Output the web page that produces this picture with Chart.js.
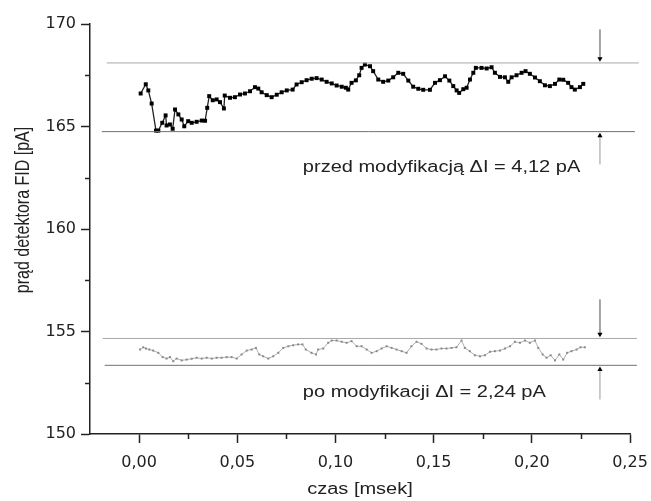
<!DOCTYPE html>
<html>
<head>
<meta charset="utf-8">
<script src="https://cdn.jsdelivr.net/npm/chart.js@4"></script>
<style>
html, body { margin: 0; padding: 0; background: #fff; }
</style>
</head>
<body>
<canvas id="chart" width="651" height="501"></canvas>
<script>
// signal before modification (black)
var upperX = [0.0008,0.0034,0.0047,0.0064,0.0086,0.0098,0.0118,0.0135,0.0140,0.0157,0.0171,0.0183,0.0200,0.0217,0.0230,0.0250,0.0268,0.0293,0.0319,0.0336,
  0.0347,0.0357,0.0375,0.0395,0.0412,0.0432,0.0436,0.0463,0.0488,0.0514,0.0539,0.0565,0.0590,0.0607,0.0624,0.0650,0.0675,0.0701,0.0726,0.0752,
  0.0782,0.0802,0.0828,0.0853,0.0879,0.0904,0.0930,0.0955,0.0981,0.1006,0.1032,0.1053,0.1065,0.1082,0.1104,0.1121,0.1133,0.1150,0.1176,0.1192,
  0.1218,0.1243,0.1269,0.1294,0.1320,0.1345,0.1371,0.1396,0.1422,0.1447,0.1481,0.1507,0.1532,0.1558,0.1580,0.1600,0.1617,0.1630,0.1651,0.1668,
  0.1685,0.1702,0.1715,0.1744,0.1770,0.1795,0.1812,0.1838,0.1863,0.1880,0.1897,0.1922,0.1948,0.1968,0.1990,0.2016,0.2041,0.2067,0.2092,0.2118,
  0.2140,0.2160,0.2185,0.2202,0.2219,0.2245,0.2262];
var upperY = [166.61,167.06,166.76,166.12,164.80,164.80,165.18,165.54,165.05,165.10,164.89,165.83,165.59,165.34,165.01,165.26,165.18,165.23,165.29,165.28,
  165.91,166.48,166.28,166.32,166.19,165.88,166.51,166.40,166.43,166.56,166.61,166.72,166.92,166.85,166.67,166.53,166.43,166.55,166.67,166.76,
  166.80,167.05,167.16,167.26,167.33,167.36,167.29,167.18,167.10,167.00,166.94,166.89,166.80,167.13,167.25,167.50,167.86,168.02,167.94,167.70,
  167.29,167.18,167.24,167.40,167.62,167.57,167.24,166.94,166.84,166.79,166.79,167.13,167.26,167.45,167.24,166.97,166.76,166.64,166.82,166.89,
  167.29,167.62,167.86,167.86,167.83,167.89,167.62,167.42,167.40,167.18,167.40,167.50,167.62,167.70,167.57,167.39,167.21,167.01,166.97,167.08,
  167.29,167.28,167.13,166.92,166.80,166.92,167.08];

// signal after modification (grey)
var lowerX = [0.0005,0.0021,0.0035,0.0052,0.0072,0.0098,0.0120,0.0140,0.0157,0.0174,0.0191,0.0217,0.0242,0.0268,0.0293,0.0319,0.0344,0.0370,0.0395,0.0420,
  0.0446,0.0471,0.0497,0.0522,0.0548,0.0573,0.0595,0.0612,0.0632,0.0658,0.0683,0.0709,0.0734,0.0760,0.0785,0.0810,0.0832,0.0849,0.0878,0.0901,
  0.0912,0.0938,0.0963,0.0981,0.1006,0.1032,0.1057,0.1082,0.1108,0.1133,0.1159,0.1184,0.1210,0.1235,0.1261,0.1286,0.1311,0.1337,0.1362,0.1387,
  0.1413,0.1438,0.1464,0.1489,0.1514,0.1540,0.1565,0.1591,0.1616,0.1642,0.1659,0.1684,0.1710,0.1736,0.1761,0.1787,0.1812,0.1838,0.1863,0.1889,
  0.1914,0.1940,0.1965,0.1990,0.2016,0.2033,0.2055,0.2075,0.2096,0.2118,0.2140,0.2160,0.2180,0.2202,0.2228,0.2248,0.2270];
var lowerY = [154.12,154.23,154.17,154.12,154.07,153.96,153.75,153.68,153.75,153.55,153.68,153.59,153.63,153.67,153.72,153.68,153.72,153.68,153.72,153.72,
  153.75,153.75,153.68,153.88,154.07,154.12,154.20,153.88,153.79,153.68,153.79,153.96,154.20,154.28,154.33,154.37,154.37,154.12,153.96,153.88,
  154.12,154.17,154.45,154.56,154.56,154.50,154.45,154.53,154.28,154.28,154.12,153.96,154.04,154.17,154.28,154.20,154.12,154.04,153.96,154.28,
  154.50,154.40,154.17,154.12,154.12,154.17,154.17,154.20,154.23,154.56,154.20,154.04,153.84,153.79,153.84,154.01,154.04,154.07,154.17,154.28,
  154.50,154.45,154.56,154.45,154.56,154.20,153.88,153.72,153.84,153.59,153.88,153.63,153.96,154.04,154.12,154.23,154.23];

// noise band limits [level, xStart, xEnd]
var bandLines = [[168.10, -0.0165, 0.2545], [164.75, -0.0190, 0.2525], [154.66, -0.0185, 0.2535], [153.35, -0.0175, 0.2535]];
// arrows [x, from, head]
var arrows = [[0.2347, 169.73, 168.30], [0.2347, 163.15, 164.55], [0.2347, 156.56, 154.86], [0.2347, 151.68, 153.15]];

var xTicks = [0, 0.05, 0.10, 0.15, 0.20, 0.25];
var xMinor = [0.025, 0.075, 0.125, 0.175, 0.225];
var yMinor = [152.5, 157.5, 162.5, 167.5];

var labelBefore = 'przed modyfikacją \u0394I = 4,12 pA';
var labelAfter = 'po modyfikacji \u0394I = 2,24 pA';

function pts(xs, ys) {
  return xs.map(function (x, i) { return { x: x, y: ys[i] }; });
}

var datasets = [];
bandLines.forEach(function (b, i) {
  datasets.push({
    data: [{ x: b[1], y: b[0] }, { x: b[2], y: b[0] }],
    borderColor: i % 2 == 0 ? '#a8a8a8' : '#707070',
    borderWidth: 1, pointRadius: 0, showLine: true, clip: false
  });
});
arrows.forEach(function (a) {
  datasets.push({
    data: [{ x: a[0], y: a[1] }, { x: a[0], y: a[2] }],
    borderColor: '#999', borderWidth: 1, showLine: true, clip: false,
    pointRadius: [0, 3], pointStyle: 'triangle', rotation: a[2] < a[1] ? 180 : 0,
    pointBackgroundColor: '#000', pointBorderColor: '#000', pointBorderWidth: 0
  });
});
datasets.push({
  data: pts(lowerX, lowerY),
  borderColor: '#b0b0b0', borderWidth: 1, showLine: true,
  pointStyle: 'rect', pointRadius: 1.4, pointBackgroundColor: '#888', pointBorderColor: '#888', pointBorderWidth: 0
});
datasets.push({
  data: pts(upperX, upperY),
  borderColor: '#222', borderWidth: 1.3, showLine: true,
  pointStyle: 'rect', pointRadius: 2.8, pointBackgroundColor: '#000', pointBorderColor: '#000', pointBorderWidth: 0
});

function stretched(ctx, text, px, py, align) {
  ctx.save();
  ctx.translate(px, py);
  ctx.scale(1.25, 1);
  ctx.textAlign = align;
  ctx.fillText(text, 0, 0);
  ctx.restore();
}

var extras = {
  id: 'extras',
  afterDraw: function (chart) {
    var ctx = chart.ctx, x = chart.scales.x, y = chart.scales.y;
    ctx.save();
    ctx.strokeStyle = '#222';
    ctx.lineWidth = 1.5;
    xMinor.forEach(function (v) {
      var px = Math.round(x.getPixelForValue(v)) + 0.5;
      ctx.beginPath(); ctx.moveTo(px, y.bottom); ctx.lineTo(px, y.bottom + 5); ctx.stroke();
    });
    yMinor.forEach(function (v) {
      var py = Math.round(y.getPixelForValue(v)) + 0.5;
      ctx.beginPath(); ctx.moveTo(x.left, py); ctx.lineTo(x.left - 5, py); ctx.stroke();
    });

    ctx.fillStyle = '#222';
    ctx.font = '16px "Liberation Sans", Arial, sans-serif';
    ctx.textBaseline = 'middle';
    stretched(ctx, labelBefore, x.getPixelForValue(0.0834), y.getPixelForValue(163.0), 'left');
    stretched(ctx, labelAfter, x.getPixelForValue(0.0834), y.getPixelForValue(152.02), 'left');
    stretched(ctx, 'czas [msek]', (x.left + x.right) / 2, 490, 'center');

    ctx.save();
    ctx.translate(23, (y.top + y.bottom) / 2 - 19);
    ctx.rotate(-Math.PI / 2);
    ctx.scale(1, 1.25);
    ctx.textAlign = 'center';
    ctx.fillText('prąd detektora FID [pA]', 0, 0);
    ctx.restore();
    ctx.restore();
  }
};

var tickFont = { family: '"DejaVu Sans", sans-serif', size: 16 };

var myChart = new Chart(document.getElementById('chart').getContext('2d'), {
  type: 'scatter',
  data: { datasets: datasets },
  options: {
    responsive: false,
    animation: false,
    layout: { padding: { left: 0, top: 24, right: 21, bottom: 0 } },
    plugins: { legend: { display: false }, tooltip: { enabled: false } },
    scales: {
      x: {
        type: 'linear', min: -0.025, max: 0.25,
        afterBuildTicks: function (scale) { scale.ticks = xTicks.map(function (v) { return { value: v }; }); },
        afterFit: function (scale) { scale.height = 67; scale.paddingLeft = 0; scale.paddingRight = 0; },
        border: { color: '#222', width: 1.5 },
        grid: { drawOnChartArea: false, tickLength: 9, tickColor: '#222', tickWidth: 1.5 },
        ticks: {
          color: '#222', font: tickFont, padding: 10, maxRotation: 0,
          callback: function (v) { return v.toFixed(2).replace('.', ','); }
        }
      },
      y: {
        type: 'linear', min: 150, max: 170,
        afterFit: function (scale) { scale.width = 90; scale.paddingTop = 0; scale.paddingBottom = 0; },
        border: { color: '#222', width: 1.5 },
        grid: { drawOnChartArea: false, tickLength: 9, tickColor: '#222', tickWidth: 1.5 },
        ticks: { color: '#222', font: tickFont, padding: 5, stepSize: 5 }
      }
    }
  },
  plugins: [extras]
});
</script>
</body>
</html>
